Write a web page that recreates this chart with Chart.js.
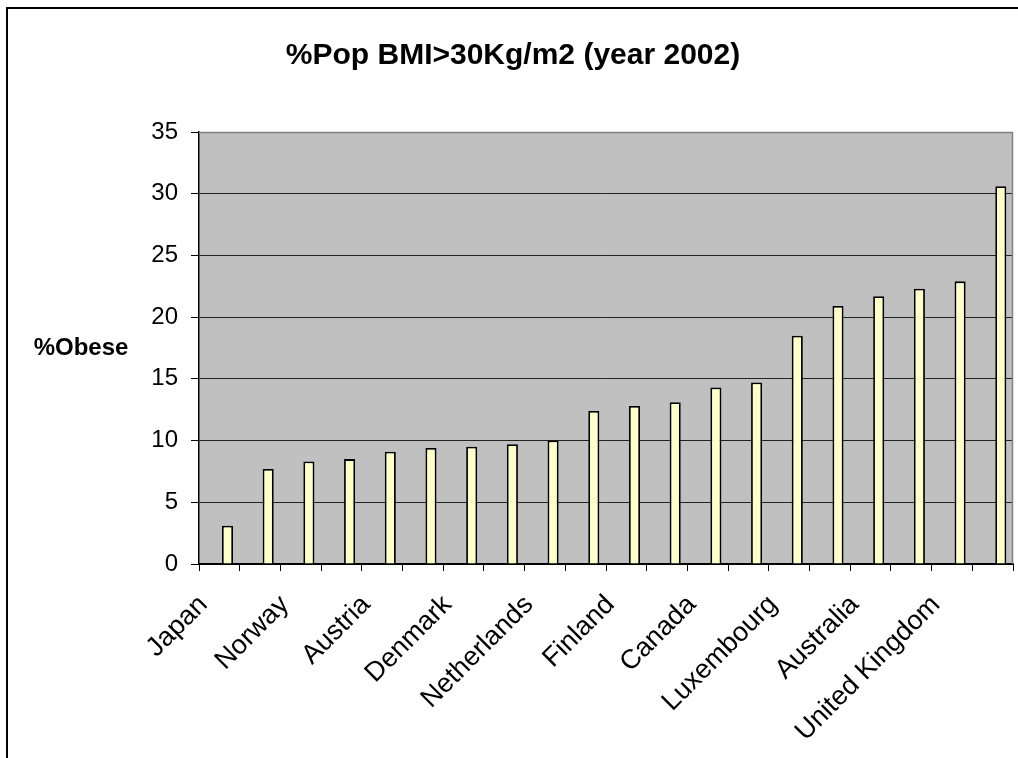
<!DOCTYPE html>
<html>
<head>
<meta charset="utf-8">
<style>
  html, body { margin: 0; padding: 0; background: #ffffff; }
  #wrap { position: relative; width: 1018px; height: 758px; }
  canvas { display: block; }
</style>
<script src="https://cdn.jsdelivr.net/npm/chart.js@4/dist/chart.umd.min.js"></script>
</head>
<body>
<div id="wrap"><canvas id="chart" width="1018" height="758"></canvas></div>
<script>
// Countries, sorted by share of obese adults (BMI > 30 kg/m2), 2002
const countries = [
  "Japan", "Switzerland", "Norway", "Italy", "Austria", "France", "Denmark",
  "Sweden", "Netherlands", "Spain", "Finland", "Germany", "Canada",
  "Czech Republic", "Luxembourg", "Iceland", "Australia", "Greece",
  "United Kingdom", "United States"
];
// % of population obese
const obesePct = [
  3.1, 7.7, 8.3, 8.5, 9.1, 9.4, 9.5, 9.7, 10.0, 12.4,
  12.8, 13.1, 14.3, 14.7, 18.5, 20.9, 21.7, 22.3, 22.9, 30.6
];
// Empty companion series: it takes the left slot of every category,
// so the obesity columns sit right of the category centre.
const emptySeries = countries.map(() => null);
// Value-axis ticks
const yTicks = [0, 5, 10, 15, 20, 25, 30, 35];

const chartTitle = "%Pop BMI>30Kg/m2 (year 2002)";
const yAxisTitle = "%Obese";
const FONT = "'Liberation Sans', Arial, sans-serif";

// Grey plot background, plot border, outer frame, chart title and
// horizontal value-axis title
const decorations = {
  id: 'decorations',
  beforeDraw(chart) {
    const { ctx, chartArea: a } = chart;
    ctx.save();
    ctx.fillStyle = '#ffffff';
    ctx.fillRect(0, 0, chart.width, chart.height);
    ctx.fillStyle = '#c0c0c0';
    ctx.fillRect(a.left, a.top, a.right - a.left, a.bottom - a.top);
    ctx.restore();
  },
  afterDraw(chart) {
    const { ctx, chartArea: a } = chart;
    ctx.save();
    // plot-area border (top and right)
    ctx.strokeStyle = '#808080';
    ctx.lineWidth = 1.5;
    ctx.beginPath();
    ctx.moveTo(a.left, a.top + 0.5);
    ctx.lineTo(a.right - 0.5, a.top + 0.5);
    ctx.lineTo(a.right - 0.5, a.bottom);
    ctx.stroke();
    // chart frame
    ctx.strokeStyle = '#000000';
    ctx.lineWidth = 2;
    ctx.beginPath();
    ctx.moveTo(7, chart.height);
    ctx.lineTo(7, 8);
    ctx.lineTo(chart.width, 8);
    ctx.stroke();
    ctx.fillStyle = '#000000';
    ctx.textAlign = 'center';
    ctx.textBaseline = 'middle';
    // chart title
    ctx.font = 'bold 30px ' + FONT;
    ctx.fillText(chartTitle, 513, 56);
    // value-axis title, written horizontally
    ctx.font = 'bold 24px ' + FONT;
    ctx.fillText(yAxisTitle, 81, (a.top + a.bottom) / 2);
    ctx.restore();
  }
};

new Chart(document.getElementById('chart'), {
  type: 'bar',
  data: {
    labels: countries,
    datasets: [
      {
        label: '',
        data: emptySeries,
        backgroundColor: '#ffffcc',
        borderColor: '#000000',
        borderWidth: 1.5
      },
      {
        label: yAxisTitle,
        data: obesePct,
        backgroundColor: '#ffffcc',
        borderColor: '#000000',
        borderWidth: 1.8,
        borderSkipped: 'start'
      }
    ]
  },
  options: {
    responsive: false,
    animation: false,
    devicePixelRatio: 1,
    datasets: {
      bar: { categoryPercentage: 0.8, barPercentage: 0.68 }
    },
    layout: { padding: { left: 0, right: 5, top: 132, bottom: 0 } },
    plugins: {
      legend: { display: false },
      tooltip: { enabled: false },
      title: { display: false }
    },
    scales: {
      x: {
        afterFit(scale) {
          scale.height = 194;
          scale.paddingLeft = 0;
          scale.paddingRight = 0;
        },
        grid: {
          offset: true,
          drawOnChartArea: false,
          drawTicks: true,
          tickLength: 7,
          tickColor: '#000000',
          color: '#000000',
          lineWidth: 1
        },
        border: { display: true, color: '#000000', width: 2 },
        ticks: {
          autoSkip: false,
          minRotation: 45,
          maxRotation: 45,
          padding: 18,
          labelOffset: -16,
          color: '#000000',
          font: { family: FONT, size: 27 },
          callback(value, index) {
            return index % 2 === 0 ? this.getLabelForValue(value) : '';
          }
        }
      },
      y: {
        min: 0,
        max: 35,
        afterFit(scale) { scale.width = 199; },
        afterBuildTicks(scale) { scale.ticks = yTicks.map(v => ({ value: v })); },
        grid: {
          drawTicks: true,
          tickLength: 8,
          tickColor: '#000000',
          color(ctx) { return ctx.tick && ctx.tick.value === 35 ? 'rgba(0,0,0,0)' : '#222222'; },
          lineWidth: 1
        },
        border: { display: true, color: '#000000', width: 1.5 },
        ticks: {
          padding: 13,
          color: '#000000',
          font: { family: FONT, size: 24 }
        }
      }
    }
  },
  plugins: [decorations]
});
</script>
</body>
</html>
